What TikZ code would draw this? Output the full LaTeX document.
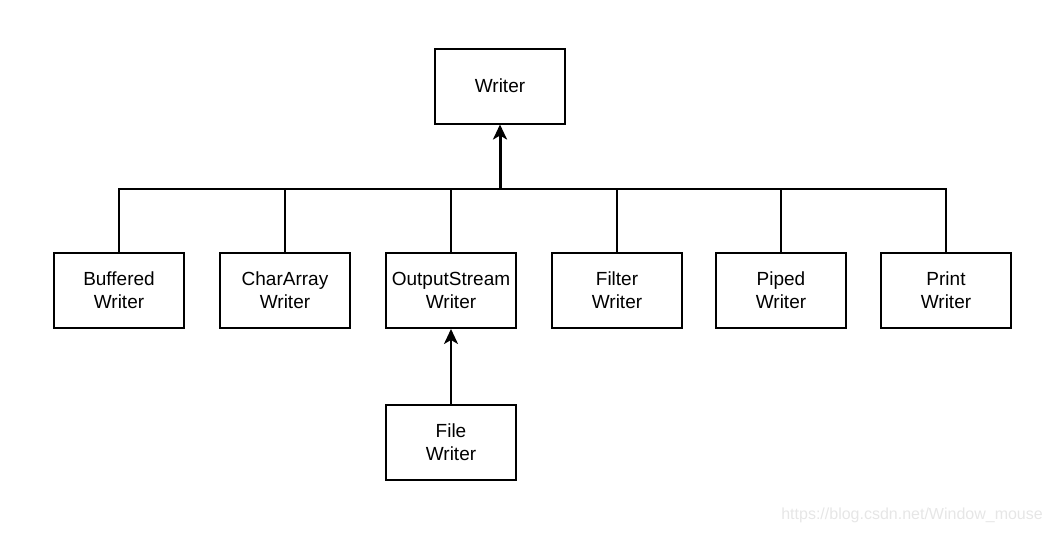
\documentclass[tikz,border=0pt]{standalone}
\usepackage{fontspec}
\setmainfont{Liberation Sans}
\usetikzlibrary{arrows.meta}
\definecolor{wm}{HTML}{E6E6E6}
\begin{document}
\begin{tikzpicture}[x=1pt,y=-1pt,
  cls/.style={draw=black,line width=2pt,minimum width=130pt,minimum height=75pt,inner sep=0pt,align=center,font=\fontsize{19}{23}\selectfont},
  conn/.style={line width=2pt},
  arr/.style={line width=2pt,-{Stealth[length=15pt,width=14pt,inset=4pt]}}]
\useasboundingbox (0,0) rectangle (1052,533);
\node[cls] (w) at (500,86) {Writer};
\node[cls] (bw) at (119,290.5) {Buffered\\Writer};
\node[cls] (cw) at (285,290.5) {CharArray\\Writer};
\node[cls] (ow) at (451,290.5) {OutputStream\\Writer};
\node[cls] (fw) at (617,290.5) {Filter\\Writer};
\node[cls] (pw) at (781,290.5) {Piped\\Writer};
\node[cls] (prw) at (946,290.5) {Print\\Writer};
\node[cls] (fiw) at (451,442) {File\\Writer};
\coordinate (j) at (500,189);
\draw[conn] (bw.north) |- (j);
\draw[conn] (cw.north) |- (j);
\draw[conn] (ow.north) |- (j);
\draw[conn] (fw.north) |- (j);
\draw[conn] (pw.north) |- (j);
\draw[conn] (prw.north) |- (j);
\draw[arr,line width=3pt] (j) -- (w.south);
\draw[arr] (fiw.north) -- (ow.south);
\node[text=wm,font=\fontsize{16}{18}\selectfont,anchor=east,inner sep=0pt] (wmk) at (1043,515) {https://blog.csdn.net/Window\_mouse};
\end{tikzpicture}
\end{document}
